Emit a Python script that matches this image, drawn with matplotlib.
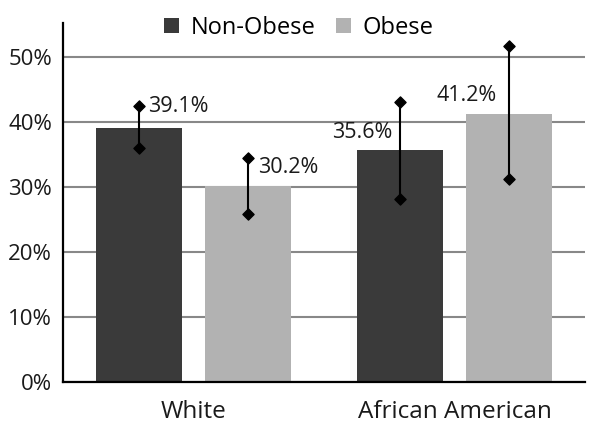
import numpy as np
import matplotlib.pyplot as plt

plt.rcParams['font.family'] = ['Open Sans', 'DejaVu Sans']

# data
groups = ['White', 'African American']
series = ['Non-Obese', 'Obese']
values = {'Non-Obese': [39.1, 35.6], 'Obese': [30.2, 41.2]}
err_low = {'Non-Obese': [35.9, 28.1], 'Obese': [25.8, 31.2]}
err_high = {'Non-Obese': [42.4, 43.1], 'Obese': [34.4, 51.6]}
labels = {'Non-Obese': ['39.1%', '35.6%'], 'Obese': ['30.2%', '41.2%']}

colors = {'Non-Obese': '#3a3a3a', 'Obese': '#b2b2b2'}
# label placement: (x offset from bar centre, y value, alignment)
label_pos = {'Non-Obese': [(0.034, 42.3, 'left'), (-0.028, 38.3, 'right')],
             'Obese': [(0.037, 32.9, 'left'), (-0.047, 44.0, 'right')]}

fig = plt.figure(figsize=(6, 4.36), dpi=100)
ax = fig.add_axes([0.105, 0.1245, 0.87, 0.8225])

x = np.arange(len(groups))
w = 0.33
offs = {'Non-Obese': -0.209, 'Obese': 0.209}

for s in series:
    xs = x + offs[s]
    ax.bar(xs, values[s], width=w, color=colors[s], label=s, zorder=2)
    ax.vlines(xs, err_low[s], err_high[s], color='black', lw=1.5, zorder=3)
    ax.scatter(xs, err_low[s], marker='D', s=32, color='black', zorder=4)
    ax.scatter(xs, err_high[s], marker='D', s=32, color='black', zorder=4)
    for i, (dx, yy, ha) in enumerate(label_pos[s]):
        ax.text(xs[i] + dx, yy, labels[s][i], ha=ha, va='center',
                fontsize=15.5, color='#1a1a1a')

ax.set_xlim(-0.5, 1.5)
ax.set_ylim(0, 55.2)
ax.set_yticks(np.arange(0, 51, 10))
ax.set_yticklabels([f'{v}%' for v in range(0, 51, 10)])
ax.set_xticks(x)
ax.set_xticklabels(groups)
ax.tick_params(axis='both', length=0, colors='#1a1a1a')
ax.tick_params(axis='x', pad=13, labelsize=17.5)
ax.tick_params(axis='y', pad=8, labelsize=16)
ax.yaxis.grid(True, color='#888888', lw=1.5, zorder=0)
ax.set_axisbelow(True)
for sp in ['top', 'right']:
    ax.spines[sp].set_visible(False)
for sp in ['left', 'bottom']:
    ax.spines[sp].set_linewidth(1.6)
    ax.spines[sp].set_color('black')

fig.legend(loc='center', bbox_to_anchor=(0.498, 0.936), ncol=2, frameon=False,
           fontsize=17, handlelength=0.65, handleheight=0.65, columnspacing=0.85,
           handletextpad=0.5, borderpad=0)

fig.savefig('out.png', dpi=100)
